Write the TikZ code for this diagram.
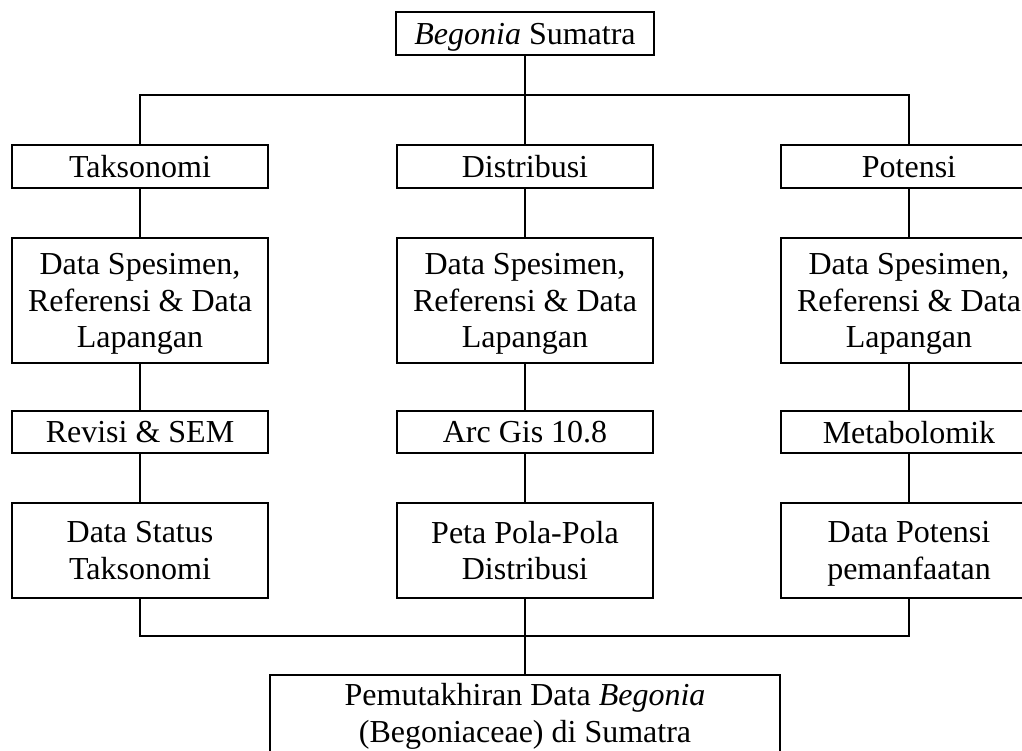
\documentclass[tikz,border=0pt]{standalone}
\usepackage{fontspec}
\setmainfont{Liberation Serif}
\usepackage{tikz}

\begin{document}
\begin{tikzpicture}[
    x=0.375pt, y=-0.375pt,
    font=\fontsize{12}{13.8}\selectfont,
    box/.style={draw, inner sep=0pt, align=center, text depth=0pt, minimum width=96pt, minimum height=#1},
    box/.default=16.1pt,
    line width=0.75pt
]
    \useasboundingbox (0,0) rectangle (1022,751);
    \clip (0,0) rectangle (1022,751);

    % Coordinates
    \coordinate (split) at (525, 95);
    \coordinate (merge) at (525, 636);

    % Root
    \node[box, minimum width=96.4pt] (root) at (525, 33.5) {\textit{Begonia} Sumatra};

    % Column heads
    \node[box] (tax)  at (140, 166.5) {Taksonomi};
    \node[box] (dist) at (525, 166.5) {Distribusi};
    \node[box] (pot)  at (909, 166.5) {Potensi};

    % Data sources
    \node[box=46.9pt] (taxdata)  at (140, 300.5) {Data Spesimen,\\Referensi \& Data\\Lapangan};
    \node[box=46.9pt] (distdata) at (525, 300.5) {Data Spesimen,\\Referensi \& Data\\Lapangan};
    \node[box=46.9pt] (potdata)  at (909, 300.5) {Data Spesimen,\\Referensi \& Data\\Lapangan};

    % Methods
    \node[box=15.75pt] (taxmeth)  at (140, 432) {Revisi \& SEM};
    \node[box=15.75pt] (distmeth) at (525, 432) {Arc Gis 10.8};
    \node[box=15.75pt] (potmeth)  at (909, 432) {Metabolomik};

    % Results
    \node[box=35.6pt] (taxres)  at (140, 550.5) {Data Status\\Taksonomi};
    \node[box=35.6pt] (distres) at (525, 550.5) {Peta Pola-Pola\\Distribusi};
    \node[box=35.6pt] (potres)  at (909, 550.5) {Data Potensi\\pemanfaatan};

    % Final output
    \node[box=35.6pt, minimum width=191.6pt, text depth=7.5pt] (final) at (525, 722.5)
        {Pemutakhiran Data \textit{Begonia}\\(Begoniaceae) di Sumatra};

    % Branching from the root
    \draw (root) -- (split);
    \draw (tax) |- (split);
    \draw (dist) -- (split);
    \draw (pot) |- (split);

    % Column chains
    \draw (tax) -- (taxdata) -- (taxmeth) -- (taxres);
    \draw (dist) -- (distdata) -- (distmeth) -- (distres);
    \draw (pot) -- (potdata) -- (potmeth) -- (potres);

    % Joining into the final box
    \draw (taxres) |- (merge);
    \draw (potres) |- (merge);
    \draw (distres) -- (merge) -- (final.north);

\end{tikzpicture}
\end{document}
